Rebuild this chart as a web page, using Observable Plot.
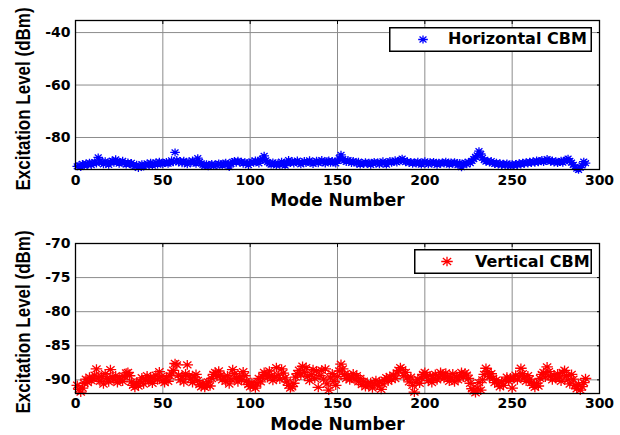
<!DOCTYPE html>
<html><head><meta charset="utf-8">
<script src="https://cdn.jsdelivr.net/npm/d3@7"></script>
<script src="https://cdn.jsdelivr.net/npm/@observablehq/plot@0.6"></script>
<style>
body{margin:0;background:#fff}
#fig{position:relative;width:620px;height:435px;background:#fff;overflow:hidden}
#fig svg{display:block}
.legend{position:absolute}
</style></head><body><div id="fig"></div>
<script>
// Excitation level (dBm) per mode number, horizontal CBM
const horizontalCBM = [
-91.0,-90.6,-91.2,-90.1,-90.8,-89.9,-90.3,-89.6,-90.5,-89.8,
-89.4,-89.9,-87.6,-88.9,-89.5,-90.2,-89.1,-89.7,-90.4,-89.3,
-88.8,-89.6,-88.3,-89.2,-90.0,-89.4,-88.9,-89.8,-90.3,-89.5,
-90.1,-89.7,-90.6,-91.0,-90.4,-91.6,-90.8,-90.2,-91.1,-90.5,
-89.9,-90.4,-89.6,-90.7,-90.0,-89.5,-90.3,-89.2,-89.8,-90.1,
-89.7,-89.3,-90.0,-89.6,-88.7,-89.4,-85.7,-88.6,-89.5,-89.0,
-89.8,-88.9,-89.6,-90.2,-89.1,-89.7,-88.8,-89.5,-90.0,-87.9,
-89.3,-89.9,-90.4,-90.8,-90.2,-91.0,-90.5,-90.1,-90.9,-90.3,
-90.6,-89.9,-90.2,-90.7,-90.0,-89.6,-90.3,-91.2,-90.1,-89.3,
-89.0,-89.6,-88.9,-89.5,-89.2,-90.0,-89.4,-89.8,-90.5,-89.7,
-89.1,-89.6,-88.8,-89.3,-89.9,-88.5,-88.2,-87.0,-88.7,-89.4,
-89.9,-90.3,-89.5,-90.0,-90.6,-89.8,-90.4,-89.2,-90.1,-90.7,
-89.4,-88.6,-89.7,-89.1,-89.9,-89.3,-88.8,-89.6,-90.2,-89.5,
-89.0,-89.7,-89.3,-88.7,-89.5,-90.1,-89.4,-88.9,-89.8,-89.2,
-88.6,-89.4,-89.9,-89.1,-88.8,-89.6,-89.0,-89.5,-89.9,-88.9,
-87.9,-86.6,-88.2,-88.8,-89.3,-88.6,-89.1,-89.7,-89.0,-89.5,
-89.9,-89.2,-90.3,-89.7,-90.1,-89.4,-90.0,-89.6,-90.4,-89.8,
-89.3,-89.9,-89.5,-90.2,-89.6,-89.1,-89.8,-90.3,-89.4,-89.0,
-89.6,-89.2,-88.7,-89.5,-89.0,-88.6,-88.1,-88.8,-89.4,-89.1,
-89.7,-89.3,-90.0,-89.5,-89.9,-89.2,-89.8,-90.3,-89.6,-89.1,
-89.7,-90.2,-89.4,-89.9,-89.3,-89.8,-90.4,-89.6,-90.0,-89.5,
-89.9,-89.2,-89.8,-90.3,-89.5,-90.0,-89.4,-89.9,-90.5,-89.7,
-91.3,-90.1,-89.6,-90.2,-89.3,-89.8,-88.9,-88.2,-87.4,-86.8,
-85.2,-86.3,-87.8,-88.6,-89.2,-88.9,-89.5,-89.0,-89.7,-90.1,
-89.6,-90.3,-89.8,-90.5,-90.0,-90.6,-89.9,-90.4,-90.8,-90.2,
-90.7,-90.1,-90.5,-89.8,-90.3,-89.6,-90.0,-89.4,-89.9,-89.2,
-89.7,-89.1,-89.6,-88.8,-89.4,-89.0,-88.6,-89.3,-88.9,-88.2,
-88.7,-89.2,-88.8,-89.5,-89.1,-89.7,-89.3,-88.9,-89.6,-89.0,
-88.5,-88.1,-88.9,-89.6,-90.4,-91.2,-91.9,-92.3,-91.5,-90.6,
-89.2,-89.8
];
// Excitation level (dBm) per mode number, vertical CBM
const verticalCBM = [
-90.8,-91.4,-91.8,-91.2,-90.5,-89.9,-90.4,-89.6,-90.1,-89.8,
-89.3,-88.4,-89.7,-90.2,-89.5,-90.6,-89.1,-89.8,-90.3,-88.5,
-89.6,-90.0,-89.4,-90.4,-89.7,-89.9,-90.2,-89.5,-89.0,-88.9,
-89.4,-90.3,-90.8,-91.1,-90.5,-90.9,-90.2,-89.7,-90.6,-89.9,
-89.4,-90.2,-89.6,-90.5,-89.8,-89.3,-90.0,-88.8,-89.5,-90.1,
-90.4,-89.7,-90.2,-89.4,-89.0,-88.6,-87.6,-87.8,-89.3,-90.0,
-89.5,-90.3,-89.1,-87.8,-89.4,-89.9,-90.4,-89.6,-89.2,-90.1,
-90.7,-91.0,-90.5,-91.1,-90.8,-90.3,-90.9,-89.8,-89.2,-88.9,
-89.5,-88.7,-89.3,-90.0,-89.6,-90.2,-89.4,-90.6,-89.9,-88.5,
-89.1,-89.8,-90.3,-89.5,-90.0,-88.8,-89.4,-90.2,-90.7,-91.0,
-90.4,-90.9,-91.2,-90.6,-89.8,-90.3,-89.5,-88.9,-89.2,-89.7,
-88.7,-89.4,-90.1,-89.6,-88.2,-89.3,-89.9,-88.4,-89.0,-89.7,
-90.3,-90.8,-91.2,-91.0,-90.5,-89.6,-89.1,-88.6,-89.3,-88.0,
-88.9,-88.2,-89.5,-90.1,-89.2,-88.5,-89.8,-88.7,-91.1,-89.4,
-88.6,-89.9,-88.4,-90.6,-91.5,-89.7,-89.1,-90.2,-90.8,-89.5,
-88.7,-87.7,-88.4,-89.2,-89.8,-89.3,-90.0,-89.6,-89.1,-89.9,
-89.4,-90.3,-89.8,-90.7,-90.2,-91.0,-90.6,-90.9,-90.4,-91.2,
-90.5,-90.1,-90.8,-90.3,-91.4,-90.6,-90.0,-89.7,-90.2,-89.5,
-89.9,-89.3,-89.8,-89.0,-88.6,-88.2,-88.5,-89.4,-88.9,-89.7,
-90.3,-89.6,-90.8,-91.8,-90.4,-89.9,-90.5,-89.7,-89.2,-88.9,
-89.5,-90.1,-89.4,-90.4,-89.8,-89.2,-90.0,-89.6,-88.9,-89.3,
-89.8,-89.0,-89.5,-90.2,-89.7,-89.1,-90.3,-89.6,-90.0,-89.4,
-88.9,-89.6,-89.0,-89.3,-89.8,-90.5,-91.3,-91.6,-91.9,-91.2,
-90.4,-91.5,-90.0,-89.2,-88.3,-88.8,-89.5,-89.1,-89.8,-90.4,
-90.0,-90.6,-91.0,-90.3,-90.8,-90.1,-89.6,-90.2,-89.7,-91.2,
-89.8,-89.3,-90.0,-89.5,-88.3,-89.1,-89.7,-90.2,-89.4,-89.9,
-90.4,-90.8,-91.1,-90.5,-90.9,-89.8,-89.2,-88.9,-89.6,-88.1,
-88.8,-89.5,-90.0,-89.3,-89.8,-89.1,-89.6,-90.2,-88.9,-88.6,
-89.4,-90.0,-90.6,-89.2,-89.9,-90.8,-91.3,-90.7,-91.5,-91.0,
-90.4,-89.8
];
const xTicks = [0, 50, 100, 150, 200, 250, 300];
const topYTicks = [-40, -60, -80];
const bottomYTicks = [-70, -75, -80, -85, -90];
const seriesNames = ["Horizontal CBM", "Vertical CBM"];
const seriesColors = ["#0000ff", "#ff0000"];
const xLabel = "Mode Number";
const yLabel = "Excitation Level (dBm)";

// MATLAB-style '*' marker (plus + cross), slightly wider than tall
const star = {
  draw(ctx, size) {
    const r = Math.sqrt(size / Math.PI), h = r * 1.2, d = r * 0.72, dh = d * 1.2;
    ctx.moveTo(-h, 0); ctx.lineTo(h, 0);
    ctx.moveTo(0, -r); ctx.lineTo(0, r);
    ctx.moveTo(-dh, -d); ctx.lineTo(dh, d);
    ctx.moveTo(-dh, d); ctx.lineTo(dh, -d);
  }
};
const fmt = d => String(d);

function panel({values, color, yDomain, yTicks, height, marginTop, marginBottom, r, sw, tickPad, ylDy}) {
  const data = values.map((v, i) => ({mode: i + 1, level: v}));
  const svg = Plot.plot({
    width: 620, height, marginLeft: 75, marginRight: 21, marginTop, marginBottom,
    x: {domain: [0, 300]},
    y: {domain: yDomain},
    style: {fontFamily: "DejaVu Sans", fontSize: "14px", fontWeight: "bold", color: "#000", background: "#fff"},
    marks: [
      Plot.gridX(xTicks.slice(1, -1), {stroke: "#8c8c8c", strokeOpacity: 1, strokeWidth: 1}),
      Plot.gridY(yTicks, {stroke: "#8c8c8c", strokeOpacity: 1, strokeWidth: 1}),
      Plot.dot(data, {x: "mode", y: "level", r, symbol: star, stroke: color, fill: "none", strokeWidth: sw}),
      Plot.frame({stroke: "#000", strokeWidth: 1.3}),
      Plot.axisX(xTicks, {tickSize: 0, tickPadding: tickPad, tickFormat: fmt, label: null}),
      Plot.axisY(yTicks, {tickSize: 0, tickPadding: 5, tickFormat: fmt, label: null}),
      Plot.axisX(xTicks, {anchor: "top", tickSize: -3, tickFormat: () => "", label: null}),
      Plot.axisY(yTicks, {anchor: "right", tickSize: -3, tickFormat: () => "", label: null}),
      Plot.text([xLabel], {frameAnchor: "bottom", dy: 24, lineAnchor: "top", fontSize: 17, fontWeight: "bold", fill: "#000"}),
      Plot.text([yLabel], {frameAnchor: "left", rotate: -90, dx: -52, dy: ylDy, fontFamily: "Liberation Sans", fontSize: 17, fontWeight: "bold", textAnchor: "middle", lineAnchor: "middle", fill: "#000"})
    ]
  });
  // widen the rotated y label slightly, as in the reference's stretched rendering
  d3.select(svg).selectAll("text").filter(function() { return this.textContent === yLabel; })
    .attr("transform", function() { return this.getAttribute("transform") + " scale(1,1.2)"; });
  return svg;
}

function legend({left, top, width, height, mx, tx, ty, r, sw, color, name}) {
  const svg = d3.create("svg").attr("class", "legend").attr("width", width).attr("height", height)
    .style("left", left + "px").style("top", top + "px");
  svg.append("rect").attr("x", 0.75).attr("y", 0.75).attr("width", width - 1.5).attr("height", height - 1.5)
    .attr("fill", "#fff").attr("stroke", "#000").attr("stroke-width", 1.5);
  svg.append("path").attr("transform", `translate(${mx},${height / 2})`)
    .attr("d", d3.symbol(star, Math.PI * r * r)()).attr("fill", "none").attr("stroke", color).attr("stroke-width", sw);
  svg.append("text").attr("x", tx).attr("y", ty).text(name)
    .attr("font-family", "DejaVu Sans").attr("font-size", 16).attr("font-weight", "bold").attr("fill", "#000");
  return svg.node();
}

const fig = document.getElementById("fig");
fig.append(panel({values: horizontalCBM, color: seriesColors[0], yDomain: [-92.2, -35.4], yTicks: topYTicks,
  height: 210, marginTop: 20, marginBottom: 41, r: 4, sw: 1.3, tickPad: 6, ylDy: 4}));
fig.append(panel({values: verticalCBM, color: seriesColors[1], yDomain: [-92, -70], yTicks: bottomYTicks,
  height: 225, marginTop: 33, marginBottom: 42, r: 4.8, sw: 1.3, tickPad: 5, ylDy: 3.5}));
fig.append(legend({left: 389, top: 27, width: 203, height: 25, mx: 34, tx: 59, ty: 17, r: 4, sw: 1.3, color: seriesColors[0], name: seriesNames[0]}));
fig.append(legend({left: 414, top: 249, width: 178, height: 25, mx: 33, tx: 61, ty: 17.5, r: 4.8, sw: 1.3, color: seriesColors[1], name: seriesNames[1]}));
</script></body></html>
